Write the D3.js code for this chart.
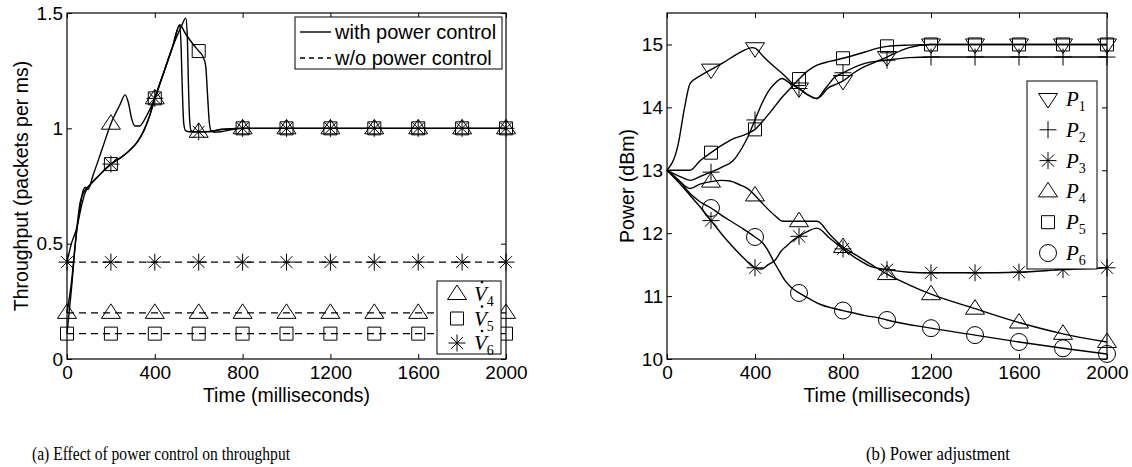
<!DOCTYPE html>
<html>
<head>
<meta charset="utf-8">
<script src="https://cdn.jsdelivr.net/npm/d3@7"></script>
<style>
  body { margin: 0; background: #fff; }
</style>
</head>
<body>
<script>
// ---- data, panel (a): throughput ----
var timeTicks = [0, 400, 800, 1200, 1600, 2000];
var thrTicks = [0, 0.5, 1, 1.5];

// with power control (solid)
var v4With = [[0,0.20],[20,0.33],[40,0.52],[60,0.66],[75,0.735],[85,0.745],[95,0.735],[120,0.80],[160,0.91],[200,1.02],
  [240,1.10],[265,1.145],[280,1.11],[295,1.04],[310,1.01],[330,1.01],[360,1.05],[400,1.13],[440,1.24],[480,1.35],
  [520,1.44],[541,1.478],[548,1.40],[553,1.2],[558,1.05],[565,0.99],[580,0.985],[600,0.985],[650,0.985],[700,0.995],
  [800,1.0],[1000,1.0],[1200,1.0],[1400,1.0],[1600,1.0],[1800,1.0],[2000,1.0]];
var v5With = [[0,0.11],[20,0.30],[40,0.52],[60,0.68],[80,0.73],[100,0.75],[130,0.78],[160,0.81],[200,0.845],[240,0.87],
  [280,0.90],[320,0.94],[350,0.99],[375,1.05],[400,1.13],[440,1.24],[480,1.35],[514,1.448],[540,1.41],[570,1.37],
  [600,1.335],[620,1.31],[632,1.27],[640,1.15],[648,1.03],[656,0.99],[670,0.983],[700,0.985],[750,0.995],
  [800,1.0],[1000,1.0],[1200,1.0],[1400,1.0],[1600,1.0],[1800,1.0],[2000,1.0]];
var v6With = [[0,0.42],[20,0.50],[45,0.57],[65,0.66],[82,0.72],[100,0.75],[130,0.78],[160,0.81],[200,0.845],[240,0.87],
  [280,0.90],[320,0.94],[350,0.99],[375,1.05],[400,1.13],[440,1.24],[480,1.35],[514,1.448],[520,1.35],[526,1.15],
  [532,1.02],[540,0.99],[560,0.985],[600,0.985],[650,0.987],[700,0.995],
  [800,1.0],[1000,1.0],[1200,1.0],[1400,1.0],[1600,1.0],[1800,1.0],[2000,1.0]];

// without power control (dashed)
var dashTimes = [0,200,400,600,800,1000,1200,1400,1600,1800,2000];
var v4Without = [0.2,0.2,0.2,0.2,0.2,0.2,0.2,0.2,0.2,0.2,0.2];
var v5Without = [0.11,0.11,0.11,0.11,0.11,0.11,0.11,0.11,0.11,0.11,0.11];
var v6Without = [0.42,0.42,0.42,0.42,0.42,0.42,0.42,0.42,0.42,0.42,0.42];

// ---- data, panel (b): power ----
var powTicks = [10, 11, 12, 13, 14, 15];
var p1 = [[0,13],[50,13.4],[80,14.0],[105,14.38],[150,14.5],[200,14.6],[260,14.72],[320,14.85],[390,14.95],[400,14.94],
  [440,14.8],[470,14.7],[530,14.52],[570,14.38],[600,14.3],[640,14.2],[680,14.14],[700,14.18],[730,14.3],[770,14.37],
  [800,14.42],[850,14.55],[900,14.65],[968,14.75],[1000,14.8],[1100,14.95],[1200,15.0],[1400,15.0],[1600,15.0],
  [1800,15.0],[2000,15.0]];
var p2 = [[0,13],[60,12.9],[105,12.84],[150,12.9],[200,12.97],[250,13.05],[300,13.15],[340,13.35],[370,13.55],
  [400,13.8],[430,14.05],[460,14.25],[490,14.38],[523,14.46],[560,14.38],[600,14.3],[640,14.2],[680,14.14],
  [720,14.3],[760,14.47],[800,14.55],[900,14.7],[1000,14.75],[1100,14.79],[1200,14.8],[1400,14.8],[1600,14.8],
  [1800,14.8],[2000,14.8]];
var p3 = [[0,13],[60,12.78],[105,12.6],[150,12.42],[200,12.2],[250,11.98],[300,11.78],[350,11.6],[400,11.45],
  [430,11.43],[460,11.5],[491,11.57],[520,11.72],[545,11.8],[570,11.88],[600,11.95],[640,12.03],[682,12.08],
  [740,11.92],[800,11.75],[860,11.6],[920,11.48],[1000,11.42],[1100,11.38],[1200,11.37],[1400,11.37],[1600,11.38],
  [1800,11.42],[2000,11.45]];
var p4 = [[0,13],[50,12.85],[105,12.71],[150,12.78],[200,12.82],[250,12.84],[286,12.83],[330,12.77],[370,12.7],
  [400,12.6],[440,12.45],[490,12.28],[527,12.19],[600,12.19],[682,12.19],[740,11.98],[800,11.78],[860,11.65],
  [920,11.52],[1000,11.35],[1100,11.18],[1200,11.03],[1400,10.8],[1600,10.58],[1800,10.4],[2000,10.27]];
var p5 = [[0,13],[60,13.0],[105,13.0],[150,13.15],[200,13.28],[250,13.4],[300,13.5],[350,13.56],[400,13.65],
  [440,13.8],[480,13.97],[523,14.16],[560,14.3],[600,14.45],[640,14.58],[682,14.67],[740,14.73],[800,14.78],
  [900,14.88],[968,14.95],[1000,14.97],[1100,14.99],[1200,15.0],[1400,15.0],[1600,15.0],[1800,15.0],[2000,15.0]];
var p6 = [[0,13],[50,12.85],[105,12.63],[150,12.5],[200,12.4],[250,12.28],[300,12.17],[350,12.06],[400,11.94],
  [436,11.84],[460,11.72],[482,11.57],[510,11.4],[536,11.25],[570,11.12],[600,11.05],[650,10.95],[695,10.87],
  [750,10.81],[800,10.77],[900,10.69],[968,10.65],[1000,10.62],[1200,10.49],[1400,10.38],[1600,10.27],
  [1800,10.17],[2000,10.08]];

var SANS = "'Liberation Sans', Arial, sans-serif";
var SERIF = "'Liberation Serif', 'Times New Roman', serif";

var svg = d3.select("body").append("svg")
   .attr("width", 1132)
   .attr("height", 467);

//Marker shapes, centred on the data point
function markerPath(type) {
  if (type == "triUp") return "M0,-9L9.5,5.5L-9.5,5.5Z";
  if (type == "triDown") return "M0,9L9.5,-5.5L-9.5,-5.5Z";
  if (type == "square") return "M-6.5,-6.5H6.5V6.5H-6.5Z";
  if (type == "star") return "M-8.5,0H8.5M0,-8.5V8.5M-6,-6L6,6M-6,6L6,-6";
  if (type == "plus") return "M-8.5,0H8.5M0,-8.5V8.5";
  var p = d3.path();
  p.arc(0, 0, 8.5, 0, 2 * Math.PI);
  return p.toString();
}

//Builds one panel: box, ticks on all sides, labels
function panel(box, yDomain, yTicks, yLabel, labelX) {
  var x = d3.scaleLinear().domain([0, 2000]).range([box.left, box.right]);
  var y = d3.scaleLinear().domain(yDomain).range([box.bottom, box.top]);
  var g = svg.append("g");

  var layers = {lines: g.append("g"), marks: g.append("g"), axes: g.append("g"), legend: g.append("g")};

  var ax = layers.axes;
  ax.append("g")
     .attr("transform", "translate(0," + box.bottom + ")")
     .call(d3.axisBottom(x).tickValues(timeTicks).tickSizeInner(-5).tickSizeOuter(0).tickPadding(7)
       .tickFormat(function(d) { return String(d); }));
  ax.append("g")
     .attr("transform", "translate(0," + box.top + ")")
     .call(d3.axisTop(x).tickValues(timeTicks).tickSizeInner(-5).tickSizeOuter(0).tickFormat(""));
  ax.append("g")
     .attr("transform", "translate(" + box.left + ",0)")
     .call(d3.axisLeft(y).tickValues(yTicks).tickSizeInner(-5).tickSizeOuter(0).tickPadding(4)
       .tickFormat(function(d) { return String(d); }));
  ax.append("g")
     .attr("transform", "translate(" + box.right + ",0)")
     .call(d3.axisRight(y).tickValues(yTicks).tickSizeInner(-5).tickSizeOuter(0).tickFormat(""));
  ax.selectAll(".domain").remove();
  ax.selectAll(".tick line").attr("stroke", "#000");
  ax.selectAll("text")
     .style("font-family", SANS)
     .style("font-size", "19px")
     .attr("fill", "#000");
  ax.append("rect")
     .attr("x", box.left)
     .attr("y", box.top)
     .attr("width", box.right - box.left)
     .attr("height", box.bottom - box.top)
     .attr("fill", "none")
     .attr("stroke", "#000")
     .attr("stroke-width", 1.2);

  ax.append("text")
     .text("Time (milliseconds)")
     .attr("x", (box.left + box.right) / 2)
     .attr("y", 402)
     .attr("text-anchor", "middle")
     .style("font-family", SANS)
     .style("font-size", "19.5px");
  ax.append("text")
     .text(yLabel)
     .attr("transform", "translate(" + labelX + "," + ((box.top + box.bottom) / 2) + ") rotate(-90)")
     .attr("dy", "0.35em")
     .attr("text-anchor", "middle")
     .style("font-family", SANS)
     .style("font-size", "19.5px");

  return {x: x, y: y, layers: layers};
}

function drawSeries(p, pts, marker, dashed, fromZero) {
  var line = d3.line()
     .x(function(d) { return p.x(d[0]); })
     .y(function(d) { return p.y(d[1]); })
     .curve(dashed ? d3.curveLinear : d3.curveMonotoneX);
  p.layers.lines.append("path")
     .datum(pts)
     .attr("d", line)
     .attr("fill", "none")
     .attr("stroke", "#000")
     .attr("stroke-width", dashed ? 1.1 : 1.4)
     .attr("stroke-dasharray", dashed ? "7,5" : null);
  p.layers.marks.selectAll(null)
     .data(pts.filter(function(d) { return d[0] % 200 == 0 && (fromZero || d[0] > 0); }))
     .enter()
     .append("path")
     .attr("d", markerPath(marker))
     .attr("transform", function(d) { return "translate(" + p.x(d[0]) + "," + p.y(d[1]) + ")"; })
     .attr("fill", "none")
     .attr("stroke", "#000")
     .attr("stroke-width", 1);
}

function zip(ts, vs) {
  return ts.map(function(t, i) { return [t, vs[i]]; });
}

//Math-style legend label, e.g. P with subscript
function mathLabel(g, x, y, letter, sub, dot) {
  var t = g.append("text")
     .attr("x", x)
     .attr("y", y + 7)
     .style("font-family", SERIF)
     .style("font-size", "21px");
  t.append("tspan").text(letter).style("font-style", "italic");
  t.append("tspan").text(sub).attr("dy", 5).style("font-size", "14px");
  if (dot) {
    g.append("circle")
       .attr("cx", x + 8)
       .attr("cy", y - 12)
       .attr("r", 1.3)
       .attr("fill", "#000");
  }
}

// ---- panel (a) ----
var pa = panel({left: 67, right: 506, top: 13, bottom: 359}, [0, 1.5], thrTicks, "Throughput (packets per ms)", 21);
drawSeries(pa, zip(dashTimes, v6Without), "star", true, true);
drawSeries(pa, zip(dashTimes, v4Without), "triUp", true, true);
drawSeries(pa, zip(dashTimes, v5Without), "square", true, true);
drawSeries(pa, v4With, "triUp", false, false);
drawSeries(pa, v5With, "square", false, false);
drawSeries(pa, v6With, "star", false, false);

//Legend: line styles
var lgA = pa.layers.legend;
lgA.append("rect")
   .attr("x", 295).attr("y", 17).attr("width", 207).attr("height", 52)
   .attr("fill", "#fff").attr("stroke", "#000");
[["with power control", null], ["w/o power control", "5,4"]].forEach(function(e, i) {
  var yy = 32 + i * 26;
  lgA.append("line")
     .attr("x1", 300).attr("x2", 331).attr("y1", yy).attr("y2", yy)
     .attr("stroke", "#000").attr("stroke-width", 1.4)
     .attr("stroke-dasharray", e[1]);
  lgA.append("text")
     .text(e[0])
     .attr("x", 335).attr("y", yy + 7)
     .style("font-family", SANS)
     .style("font-size", "20px");
});

//Legend: markers
lgA.append("rect")
   .attr("x", 437).attr("y", 281).attr("width", 64).attr("height", 73)
   .attr("fill", "#fff").attr("stroke", "#000");
[["triUp", "4"], ["square", "5"], ["star", "6"]].forEach(function(e, i) {
  var yy = 294 + i * 24.5;
  lgA.append("path")
     .attr("d", markerPath(e[0]))
     .attr("transform", "translate(457," + yy + ")")
     .attr("fill", "none").attr("stroke", "#000");
  mathLabel(lgA, 474, yy, "V", e[1], true);
});

// ---- panel (b) ----
var pb = panel({left: 667, right: 1107, top: 13, bottom: 359}, [10, 15.5], powTicks, "Power (dBm)", 627);
var powSeries = [[p1, "triDown"], [p2, "plus"], [p3, "star"], [p4, "triUp"], [p5, "square"], [p6, "circle"]];
powSeries.forEach(function(s) {
  drawSeries(pb, s[0], s[1], false, false);
});

var lgB = pb.layers.legend;
lgB.append("rect")
   .attr("x", 1027).attr("y", 81).attr("width", 70).attr("height", 188)
   .attr("fill", "#fff").attr("stroke", "#000");
powSeries.forEach(function(s, i) {
  var yy = 99 + i * 30.8;
  lgB.append("path")
     .attr("d", markerPath(s[1]))
     .attr("transform", "translate(1048," + yy + ")")
     .attr("fill", "none").attr("stroke", "#000");
  mathLabel(lgB, 1066, yy, "P", String(i + 1), false);
});

// ---- captions ----
svg.append("text")
   .text("(a) Effect of power control on throughput")
   .attr("x", 32).attr("y", 460)
   .attr("textLength", 258)
   .attr("lengthAdjust", "spacingAndGlyphs")
   .style("font-family", SERIF)
   .style("font-size", "18px");
svg.append("text")
   .text("(b) Power adjustment")
   .attr("x", 866).attr("y", 460)
   .attr("textLength", 144)
   .attr("lengthAdjust", "spacingAndGlyphs")
   .style("font-family", SERIF)
   .style("font-size", "18px");
</script>
</body>
</html>
